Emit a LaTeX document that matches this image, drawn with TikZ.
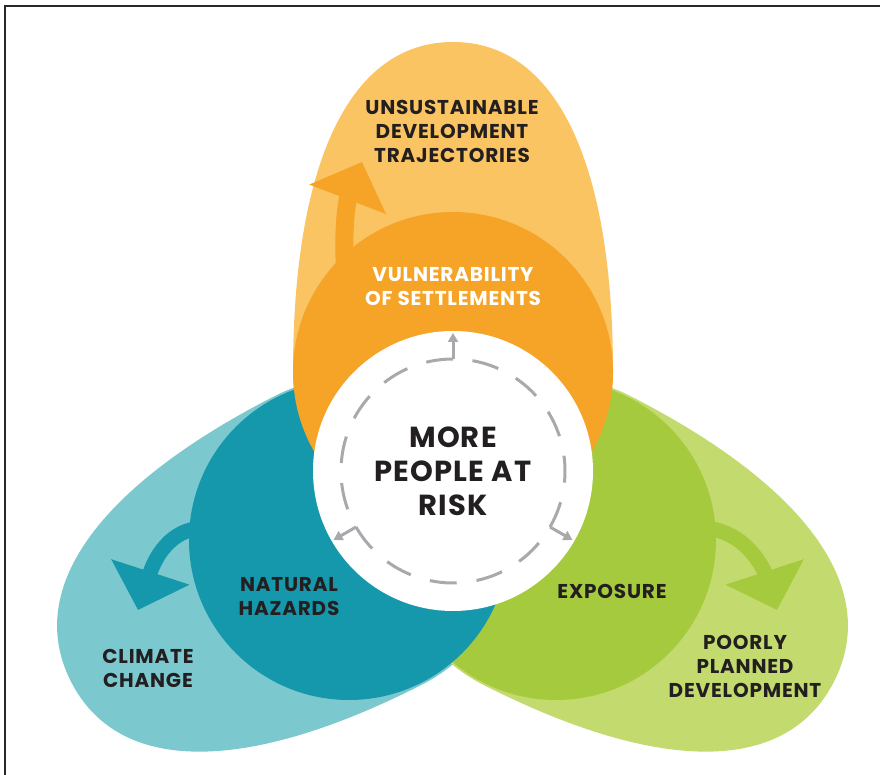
\documentclass[tikz,border=0pt]{standalone}
\usepackage{fontspec}
\setmainfont{Poppins}[LetterSpace=4]
\usetikzlibrary{arrows.meta}
\usetikzlibrary{positioning}

\definecolor{orangelight}{RGB}{251,196,99}
\definecolor{orangedark}{RGB}{246,164,40}
\definecolor{teallight}{RGB}{123,200,207}
\definecolor{tealdark}{RGB}{21,152,171}
\definecolor{greenlight}{RGB}{195,219,110}
\definecolor{greendark}{RGB}{166,202,62}
\definecolor{ringgray}{RGB}{167,169,172}
\definecolor{textdark}{RGB}{35,31,32}
\definecolor{framecol}{RGB}{40,40,40}

\tikzset{
  label/.style={font=\bfseries\fontsize{20}{24}\selectfont, text=textdark, align=center, inner sep=0pt},
  biglabel/.style={font=\bfseries\fontsize{29}{34}\selectfont, text=textdark, align=center, inner sep=0pt},
  ring/.style={ringgray, line width=3, dash pattern=on 27pt off 20pt},
  outlet/.style={ringgray, line width=3, -{Triangle[width=10pt,length=9pt]}},
  flow/.style={line width=15, -{Triangle[width=80pt,length=40pt]}}
}

% egg shaped petal: centre, direction, half width, reach, colour
\newcommand{\petal}[5]{%
  \begin{scope}[shift={(#1)},rotate=#2]
    \fill[#5] (0,#3) .. controls (0.62*#4,#3) and (#4,0.66*#3) .. (#4,0)
      .. controls (#4,-0.66*#3) and (0.62*#4,-#3) .. (0,-#3)
      arc[start angle=-90,end angle=-270,radius=#3];
  \end{scope}}

\begin{document}
\begin{tikzpicture}[x=1pt,y=1pt]
    \useasboundingbox (0,0) rectangle (880,775);
    \coordinate (core) at (453,304);
    \coordinate (vuln) at (453,403);
    \coordinate (haz) at (349,235);
    \coordinate (expo) at (556,235);

    \draw[framecol, line width=1.2] (5,0) -- (5,769) -- (880,769);

    % outer petals
    \petal{vuln}{90}{160}{330}{orangelight}
    \petal{haz}{207}{162}{312}{teallight}
    \petal{expo}{333}{162}{312}{greenlight}

    % arrows leaving the circles
    \coordinate (vulnout) at (345,505);
    \coordinate (vulntip) at (362,613);
    \coordinate (hazout) at (205,247);
    \coordinate (haztip) at (138,165);
    \coordinate (expoout) at (700,247);
    \coordinate (expotip) at (777,165);
    \draw[flow, orangedark, line width=18] (vulnout) to[out=93, in=249] (vulntip);
    \draw[flow, tealdark] (hazout) to[out=180, in=72] (haztip);
    \draw[flow, greendark] (expoout) to[out=0, in=108] (expotip);

    % inner circles
    \fill[greendark] (expo) circle (160);
    \fill[tealdark] (haz) circle (160);
    \fill[orangedark] (vuln) circle (160);
    \fill[white] (core) circle (140);

    % dashed ring with its three outlets
    \foreach \a in {90,210,330} {
        \draw[ring] (core) ++(\a:112) arc[start angle=\a, end angle=\a+120, radius=112];
        \draw[outlet] (core) ++(\a:112) -- ++(\a:26);
    }

    \node[label] (traj) at (452,644) {UNSUSTAINABLE\\DEVELOPMENT\\TRAJECTORIES};
    \node[label, text=white] (settle) at (453,488) {VULNERABILITY\\OF SETTLEMENTS};
    \node[biglabel] (risk) at (core) {MORE\\PEOPLE AT\\RISK};
    \node[label] (hazards) at (289,178) {NATURAL\\HAZARDS};
    \node[label] (climate) at (148,107) {CLIMATE\\CHANGE};
    \node[label] (exposure) at (612,184) {EXPOSURE};
    \node[label] (planning) at (745,109) {POORLY\\PLANNED\\DEVELOPMENT};
\end{tikzpicture}
\end{document}
